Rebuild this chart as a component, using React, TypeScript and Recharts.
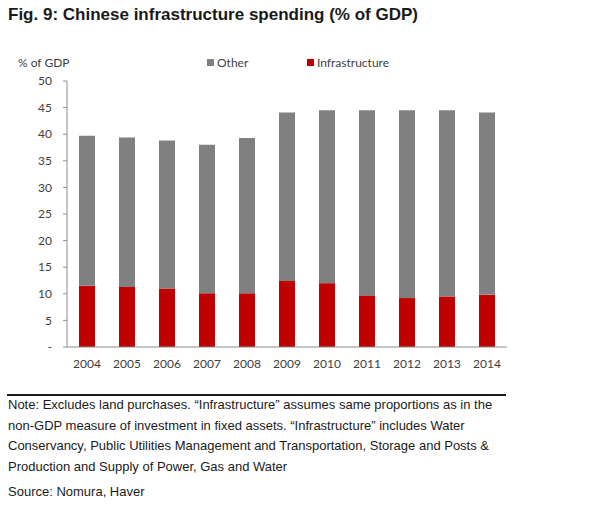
import React from "react";
import { Bar, BarChart, Legend, XAxis, YAxis } from "recharts";

const years = ["2004", "2005", "2006", "2007", "2008", "2009", "2010", "2011", "2012", "2013", "2014"];
const infrastructure = [11.5, 11.3, 11.0, 10.1, 10.1, 12.4, 12.0, 9.7, 9.2, 9.5, 9.8];
const other = [28.2, 28.1, 27.8, 27.9, 29.2, 31.7, 32.5, 34.8, 35.3, 35.0, 34.3];
const yTicks = [0, 5, 10, 15, 20, 25, 30, 35, 40, 45, 50];

const data = years.map((year, i) => ({
  year,
  infrastructure: infrastructure[i],
  other: other[i],
}));

const GREY = "#808080";
const RED = "#c00000";
const AXIS = "#8c8c8c";
const TICK_FONT = { fontSize: 12, fontFamily: "Lato", fill: "#404040" };
const NOTE_FONT = "Liberation Sans, Arial, sans-serif";

function LegendContent({ payload }: any) {
  const items = [...(payload ?? [])].reverse();
  return (
    <div style={{ display: "flex", fontFamily: "Lato", fontSize: 12, color: "#404040" }}>
      {items.map((p: any, i: number) => (
        <div key={p.value} style={{ display: "flex", alignItems: "center", width: i === 0 ? 100 : "auto" }}>
          <span style={{ width: 7, height: 7, background: p.color, marginRight: 3, display: "inline-block" }} />
          {p.value}
        </div>
      ))}
    </div>
  );
}

export default function App() {
  return (
    <div style={{ position: "absolute", left: 0, top: 0, width: 600, height: 505, background: "#fff" }}>
      <div
        style={{
          position: "absolute",
          left: 8,
          top: 5,
          fontFamily: NOTE_FONT,
          fontWeight: "bold",
          fontSize: 17,
          color: "#1a1a1a",
          whiteSpace: "nowrap",
        }}
      >
        Fig. 9: Chinese infrastructure spending (% of GDP)
      </div>
      <div style={{ position: "absolute", left: 18, top: 55, fontFamily: "Lato", fontSize: 12, color: "#404040" }}>
        % of GDP
      </div>
      <div style={{ position: "absolute", left: 0, top: 0 }}>
        <BarChart width={600} height={390} data={data} margin={{ top: 81, right: 93, bottom: 13, left: 10 }} barCategoryGap="30%">
          <XAxis
            dataKey="year"
            tickLine={false}
            tickSize={0}
            tickMargin={12}
            height={30}
            stroke={AXIS}
            tick={TICK_FONT}
          />
          <YAxis
            domain={[0, 50]}
            ticks={yTicks}
            interval={0}
            width={57}
            tickSize={4}
            tickMargin={11}
            stroke={AXIS}
            tick={TICK_FONT}
            tickFormatter={(v: number) => (v === 0 ? "-" : String(v))}
          />
          <Legend
            verticalAlign="middle"
            layout="horizontal"
            content={<LegendContent />}
            wrapperStyle={{ position: "absolute", top: 55, left: 207, width: "auto" }}
          />
          <Bar dataKey="infrastructure" name="Infrastructure" stackId="a" fill={RED} isAnimationActive={false} />
          <Bar dataKey="other" name="Other" stackId="a" fill={GREY} isAnimationActive={false} />
        </BarChart>
      </div>
      <div style={{ position: "absolute", left: 7, top: 394, width: 499, height: 2, background: "#1a1a1a" }} />
      <div
        style={{
          position: "absolute",
          left: 8,
          top: 395,
          fontFamily: NOTE_FONT,
          fontSize: 13,
          lineHeight: "20.5px",
          color: "#1a1a1a",
          whiteSpace: "nowrap",
        }}
      >
        Note: Excludes land purchases. “Infrastructure” assumes same proportions as in the
        <br />
        non-GDP measure of investment in fixed assets. “Infrastructure” includes Water
        <br />
        Conservancy, Public Utilities Management and Transportation, Storage and Posts &amp;
        <br />
        Production and Supply of Power, Gas and Water
      </div>
      <div
        style={{
          position: "absolute",
          left: 8,
          top: 484,
          fontFamily: NOTE_FONT,
          fontSize: 13,
          color: "#1a1a1a",
        }}
      >
        Source: Nomura, Haver
      </div>
    </div>
  );
}
